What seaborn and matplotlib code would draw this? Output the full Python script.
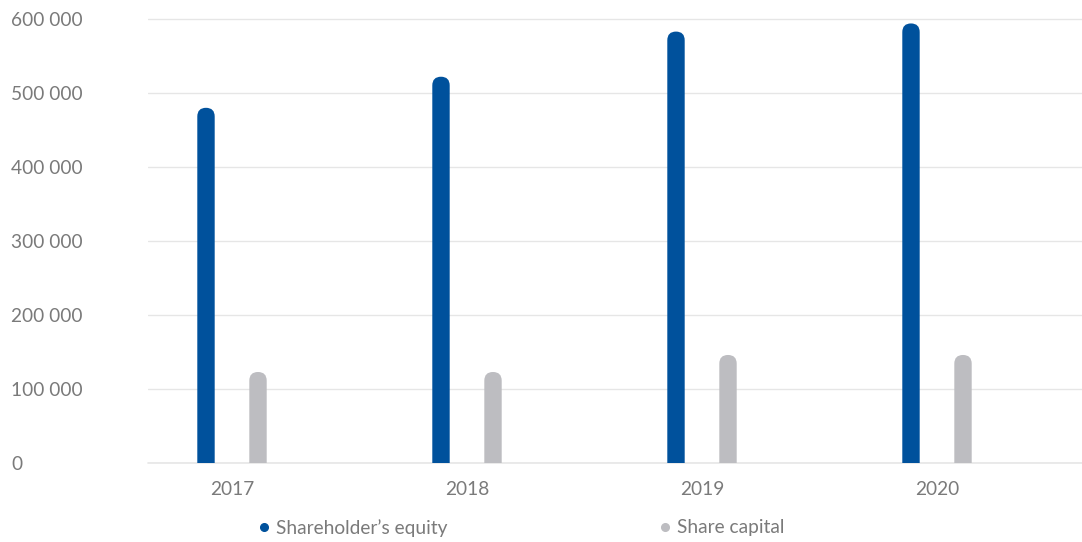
import matplotlib
matplotlib.use("Agg")
import matplotlib.pyplot as plt
import seaborn as sns
import pandas as pd
from matplotlib.patches import FancyBboxPatch
from matplotlib.lines import Line2D

years = ["2017", "2018", "2019", "2020"]
series = ["Shareholder\u2019s equity", "Share capital"]
equity = [480000, 522000, 583000, 594000]
capital = [123000, 123000, 146000, 146000]
yticks = [0, 100000, 200000, 300000, 400000, 500000, 600000]

BLUE = "#00519c"
GRAY = "#bdbdc1"
TEXT = "#7a7a7a"
GRID = "#e6e6e6"

df = pd.DataFrame({
    "year": years * 2,
    "series": [series[0]] * len(years) + [series[1]] * len(years),
    "value": equity + capital,
})

sns.set_theme(style="white")
plt.rcParams['font.family'] = ['Lato', 'DejaVu Sans']

W, H = 1082, 542
fig = plt.figure(figsize=(W / 100, H / 100), dpi=100)
ax_l, ax_r, ax_t, ax_b = 148, 1082, 15, 463
ax = fig.add_axes([ax_l / W, (H - ax_b) / H, (ax_r - ax_l) / W, (ax_b - ax_t) / H])

sns.barplot(data=df, x="year", y="value", hue="series", palette=[BLUE, GRAY],
            width=0.4426, ax=ax, legend=False, saturation=1)

ppx = 235.0
ppy = (463 - 19) / 600000.0
ax.set_xlim(-(232 - ax_l) / ppx, 3 + (ax_r - 937) / ppx)
ax.set_ylim(0, 600000 + (19 - ax_t) / ppy)

new_w = 17.4 / ppx
r_y = (new_w * ppx / 2) / ppy
for p in list(ax.patches):
    x, w, h = p.get_x(), p.get_width(), p.get_height()
    fc = p.get_facecolor()
    c = x + w / 2
    p.remove()
    fb = FancyBboxPatch((c - new_w / 2, -r_y), new_w, h + r_y,
                        boxstyle=f"round,pad=0,rounding_size={new_w / 2}",
                        mutation_aspect=r_y / (new_w / 2),
                        facecolor=fc, edgecolor="none", zorder=3)
    ax.add_patch(fb)

FS = 13.8
for s in ax.spines.values():
    s.set_visible(False)
ax.set_yticks(yticks)
ax.set_yticklabels([f"{v:,.0f}".replace(",", " ") for v in yticks])
ax.yaxis.grid(True, color=GRID, lw=1)
ax.set_axisbelow(True)
ax.axhline(0, color=GRID, lw=1.2, clip_on=False, zorder=1)
ax.tick_params(axis="y", length=0, pad=(ax_l - 11) * 0.72, labelsize=FS, labelcolor=TEXT)
for lab in ax.get_yticklabels():
    lab.set_ha("left")
ax.tick_params(axis="x", length=0, pad=13, labelsize=FS, labelcolor=TEXT)
ax.set_xlabel("")
ax.set_ylabel("")

colors = [BLUE, GRAY]
anchors = [257, 658]
for name, col, xa in zip(series, colors, anchors):
    h = Line2D([], [], marker="o", ls="", color=col, markersize=5.5)
    fig.legend(handles=[h], labels=[name], loc="center left",
               bbox_to_anchor=(xa / W, 1 - 528 / H), frameon=False,
               borderpad=0, borderaxespad=0, handlelength=0.7, handletextpad=0.3,
               fontsize=FS, labelcolor=TEXT)

fig.savefig("out.png", dpi=100)
